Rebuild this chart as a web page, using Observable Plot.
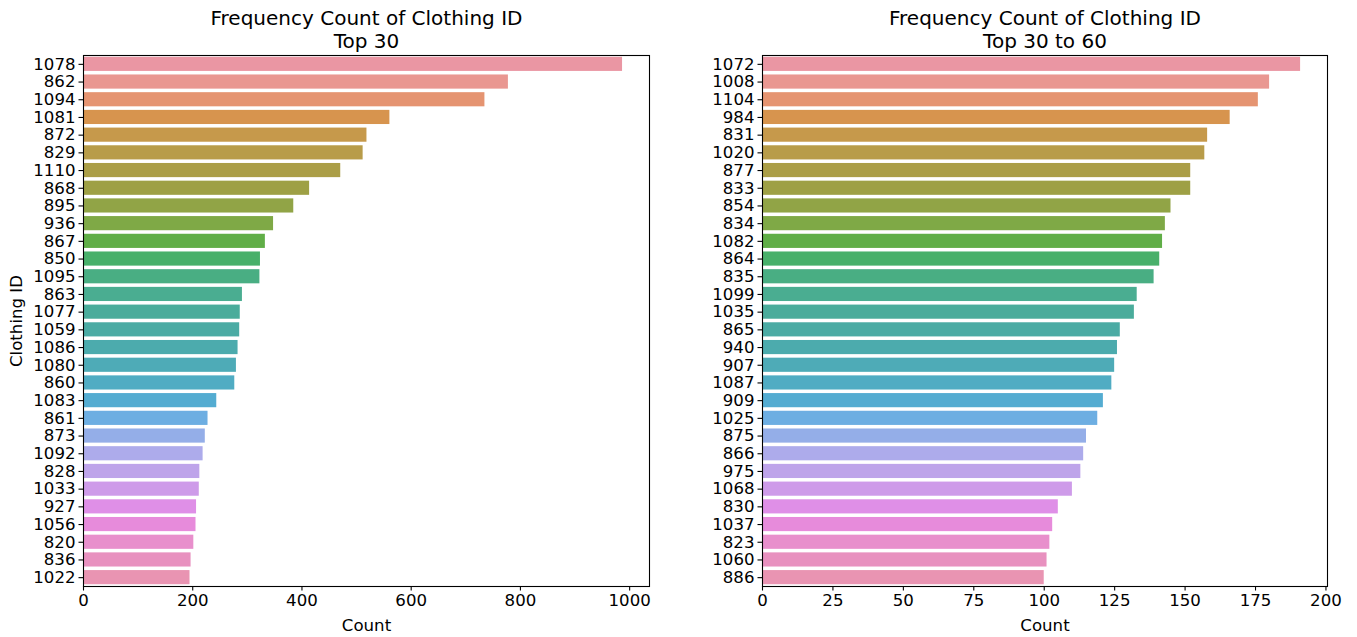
<!DOCTYPE html>
<html>
<head>
<meta charset="utf-8">
<script src="https://cdn.jsdelivr.net/npm/d3@7"></script>
<script src="https://cdn.jsdelivr.net/npm/@observablehq/plot@0.6"></script>
<style>
  html, body { margin: 0; padding: 0; background: #fff; }
  #fig { position: relative; width: 1357px; height: 637px; overflow: hidden; }
  #fig svg { position: absolute; top: 0; font-family: "DejaVu Sans", sans-serif; }
</style>
</head>
<body>
<div id="fig"></div>
<script>
// ---- Data ----
const topIds = ["1078","862","1094","1081","872","829","1110","868","895","936","867","850","1095","863","1077","1059","1086","1080","860","1083","861","873","1092","828","1033","927","1056","820","836","1022"];
const topCounts = [987,778,735,561,519,512,471,414,385,348,333,324,323,291,287,286,283,280,277,244,228,223,219,213,212,207,206,202,197,195];

const nextIds = ["1072","1008","1104","984","831","1020","877","833","854","834","1082","864","835","1099","1035","865","940","907","1087","909","1025","875","866","975","1068","830","1037","823","1060","886"];
const nextCounts = [191,180,176,166,158,157,152,152,145,143,142,141,139,133,132,127,126,125,124,121,119,115,114,113,110,105,103,102,101,100];

const topTicks = [0,200,400,600,800,1000];
const nextTicks = [0,25,50,75,100,125,150,175,200];

const titles = ["Frequency Count of Clothing ID\nTop 30", "Frequency Count of Clothing ID\nTop 30 to 60"];
const xLabel = "Count";
const yLabel = "Clothing ID";

// ---- seaborn-style husl palette (husl_palette(n, h=.01, s=.9, l=.7)), desaturated 0.75 ----
const M = [[3.2406,-1.5372,-0.4986],[-0.9689,1.8758,0.0415],[0.0557,-0.2040,1.0570]];
const refU = 0.19784, refV = 0.46834, KAPPA = 24389/27, EPS = 216/24389;
function maxChroma(L, H) {
  const hr = H / 360 * 2 * Math.PI, sinH = Math.sin(hr), cosH = Math.cos(hr);
  const sub1 = Math.pow(L + 16, 3) / 1560896;
  const sub2 = sub1 > EPS ? sub1 : L / KAPPA;
  let res = Infinity;
  for (const [m1, m2, m3] of M) {
    const top = (0.99915*m1 + 1.05122*m2 + 1.14460*m3) * sub2;
    const rb = 0.86330*m3 - 0.17266*m2;
    const lb = 0.12949*m3 - 0.38848*m1;
    const bottom = (rb*sinH + lb*cosH) * sub2;
    for (const t of [0, 1]) {
      const C = L * (top - 1.05122*t) / (bottom + 0.17266*sinH*t);
      if (C > 0 && C < res) res = C;
    }
  }
  return res;
}
function fInv(t) { return t*t*t > EPS ? t*t*t : (116*t - 16) / KAPPA; }
function fromLinear(c) { return c <= 0.0031308 ? 12.92*c : 1.055*Math.pow(c, 1/2.4) - 0.055; }
function husl(H, S, L) {
  const C = maxChroma(L, H) / 100 * S;
  const hr = H / 360 * 2 * Math.PI;
  const U = Math.cos(hr) * C, V = Math.sin(hr) * C;
  const varY = fInv((L + 16) / 116);
  const varU = U / (13*L) + refU, varV = V / (13*L) + refV;
  const Y = varY;
  const X = -(9*Y*varU) / ((varU - 4)*varV - varU*varV);
  const Z = (9*Y - 15*varV*Y - varV*X) / (3*varV);
  return M.map(r => Math.min(1, Math.max(0, fromLinear(r[0]*X + r[1]*Y + r[2]*Z))));
}
function palette(n) {
  const out = [];
  for (let i = 0; i < n; i++) {
    const h = ((i / n + 0.01) % 1) * 359;
    const [r, g, b] = husl(h, 0.9 * 99, 0.7 * 99);
    const c = d3.hsl(d3.rgb(r*255, g*255, b*255));
    c.s *= 0.75;
    out.push(c.formatHex());
  }
  return out;
}

const FONT = 16.6;
function panel(ids, counts, ticks, title, left, width, mLeft, mRight) {
  const data = ids.map((id, i) => ({id, count: counts[i]}));
  const xmax = d3.max(counts) * 1.05;
  const svg = Plot.plot({
    width, height: 637,
    marginLeft: mLeft, marginRight: mRight, marginTop: 55, marginBottom: 51,
    style: {fontFamily: "DejaVu Sans, sans-serif", fontSize: FONT + "px", color: "black", background: "white"},
    x: {domain: [0, xmax], ticks, label: null},
    y: {domain: ids, paddingInner: 0.2, paddingOuter: 0.1, round: false, label: null},
    color: {domain: ids, range: palette(ids.length)},
    marks: [
      Plot.barX(data, {x: "count", y: "id", fill: "id"}),
      Plot.frame({stroke: "black", strokeWidth: 1.1}),
      Plot.axisX({ticks, tickSize: 4.5, tickPadding: 3.5, fontSize: FONT, label: null, tickFormat: d3.format("d"), strokeWidth: 1.1}),
      Plot.axisY({tickSize: 4.5, tickPadding: 3.5, fontSize: FONT, label: null, strokeWidth: 1.1}),
      Plot.text([title], {text: d => d, frameAnchor: "top", lineAnchor: "bottom", dy: -8, fontSize: 20, lineHeight: 1.15, fill: "black"}),
      Plot.text([xLabel], {text: d => d, frameAnchor: "bottom", lineAnchor: "bottom", dy: 44, fontSize: FONT, fill: "black"}),
      ...(left === 0 ? [Plot.text([yLabel], {text: d => d, frameAnchor: "left", textAnchor: "middle", rotate: -90, dx: -67, fontSize: FONT, fill: "black"})] : [])
    ]
  });
  svg.style.left = left + "px";
  document.getElementById("fig").appendChild(svg);
}

panel(topIds, topCounts, topTicks, titles[0], 0, 680, 83, 31);
panel(nextIds, nextCounts, nextTicks, titles[1], 680, 677, 82, 30);
</script>
</body>
</html>
